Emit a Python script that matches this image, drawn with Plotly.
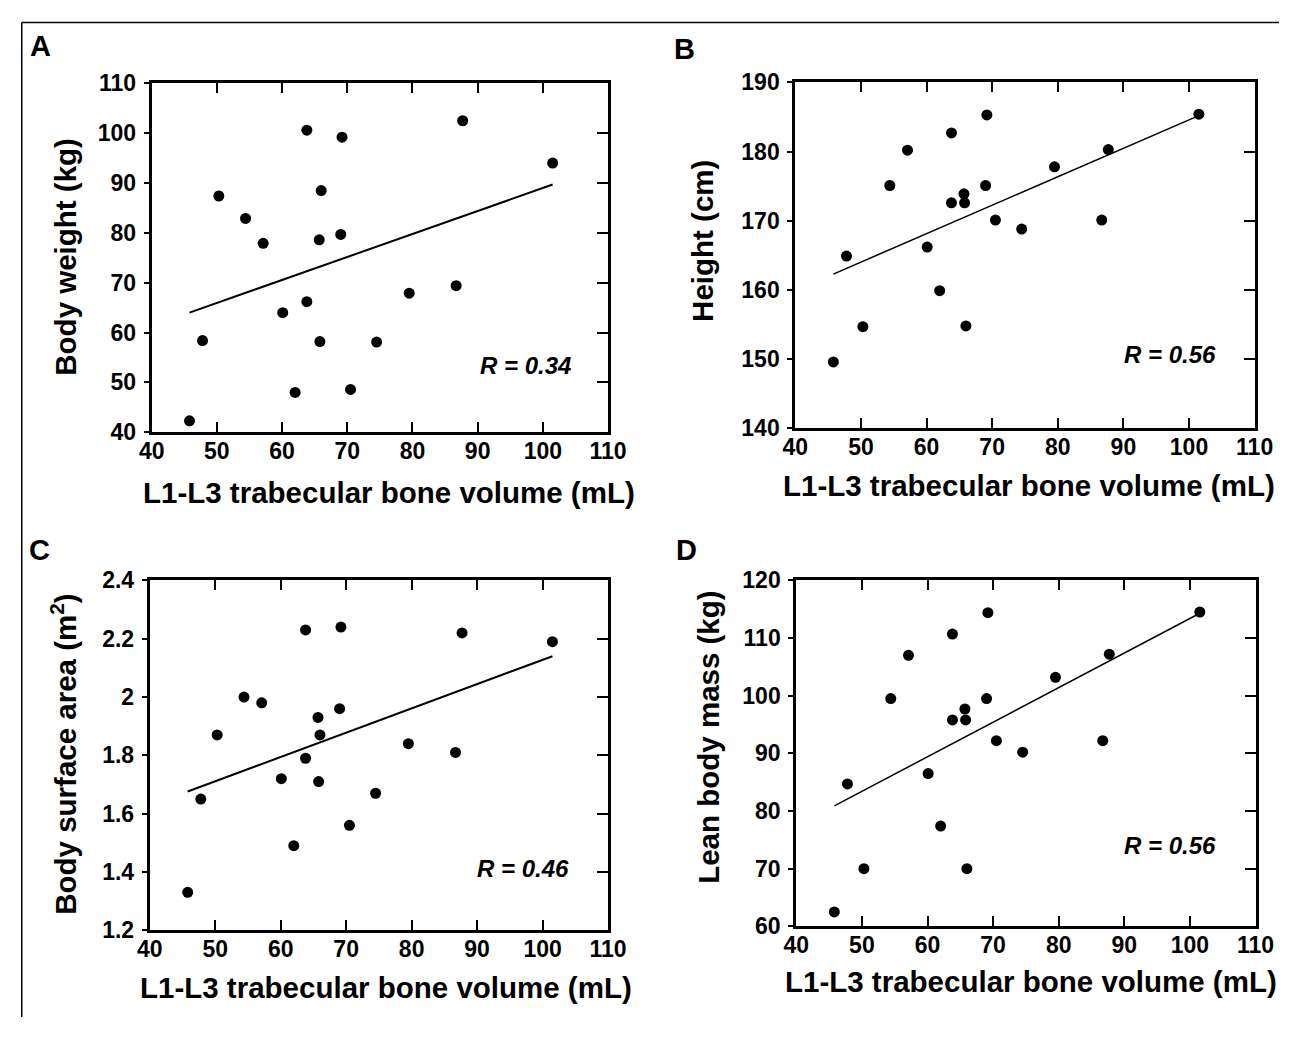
import plotly.graph_objects as go

# ---------------- data ----------------
bone_volume = [45.8, 47.8, 50.3, 54.4, 57.1, 60.1, 62.0, 63.8, 63.8, 65.7,
               65.8, 66.0, 69.2, 69.0, 70.5, 74.5, 79.5, 86.7, 87.7, 101.5]
body_weight = [42.3, 58.4, 87.4, 82.9, 77.9, 64.0, 48.0, 100.6, 66.2, 78.6,
               58.2, 88.5, 99.2, 79.7, 48.6, 58.1, 67.9, 69.4, 102.5, 94.0]
height_cm = [149.6, 164.9, 154.7, 175.1, 180.2, 166.2, 159.9, 182.7, 172.6, 173.9,
             172.6, 154.8, 185.3, 175.1, 170.1, 168.8, 177.8, 170.1, 180.3, 185.4]
bsa_m2 = [1.33, 1.65, 1.87, 2.00, 1.98, 1.72, 1.49, 2.23, 1.79, 1.93,
          1.71, 1.87, 2.24, 1.96, 1.56, 1.67, 1.84, 1.81, 2.22, 2.19]
lean_mass = [62.5, 84.7, 70.0, 99.5, 107.0, 86.5, 77.4, 110.7, 95.8, 97.7,
             95.8, 70.0, 114.4, 99.5, 92.2, 90.2, 103.2, 92.2, 107.2, 114.5]

# regression lines (end points)
fit_x = [45.8, 101.5]
fit_weight = [64.0, 89.7]
fit_height = [162.3, 185.2]
fit_bsa = [1.676, 2.140]
fit_lean = [80.9, 114.3]

r_labels = ["R = 0.34", "R = 0.56", "R = 0.46", "R = 0.56"]
r_pos_x = [97.4, 97.1, 97.0, 96.9]
r_pos_y = [53.4, 150.7, 1.412, 74.1]

panel_letters = ["A", "B", "C", "D"]
x_title = "L1-L3 trabecular bone volume (mL)"
y_titles = ["Body weight (kg)", "Height (cm)", "Body surface area (m<sup>2</sup>)",
            "Lean body mass (kg)"]

x_ticks = [40, 50, 60, 70, 80, 90, 100, 110]
y_ticks = [
    [40, 50, 60, 70, 80, 90, 100, 110],
    [140, 150, 160, 170, 180, 190],
    [1.2, 1.4, 1.6, 1.8, 2.0, 2.2, 2.4],
    [60, 70, 80, 90, 100, 110, 120],
]
y_ticktext = [
    ["40", "50", "60", "70", "80", "90", "100", "110"],
    ["140", "150", "160", "170", "180", "190"],
    ["1.2", "1.4", "1.6", "1.8", "2", "2.2", "2.4"],
    ["60", "70", "80", "90", "100", "110", "120"],
]
y_ranges = [[40, 110], [140, 190], [1.2, 2.4], [60, 120]]
series_y = [body_weight, height_cm, bsa_m2, lean_mass]
fits_y = [fit_weight, fit_height, fit_bsa, fit_lean]
fit_widths = [2, 1.5, 2, 1.5]

# ---------------- layout geometry (page pixels) ----------------
PAGE_MARGIN = 8          # default body margin of the html page
W, H = 1306 - 2 * PAGE_MARGIN, 1038 - 2 * PAGE_MARGIN
# plot frames: left, right, top, bottom
frames = [(142, 610, 72, 430), (802, 1273, 71, 426),
          (140, 610, 582, 941), (803, 1274, 582, 937)]
letter_pos = [(28, 34), (688, 37), (27, 551), (690, 551)]
xtitle_pos = [(385, 492), (1042, 485), (382, 1000), (1044, 994)]
ytitle_pos = [(54, 250), (707, 234), (52, 760), (713, 743)]


def px(x):
    return (x - PAGE_MARGIN) / W


def py(y):
    return 1 - (y - PAGE_MARGIN) / H


FONT = "Liberation Sans, Arial, sans-serif"
TICK_SIZE = 23
TITLE_SIZE = 29.5
fig = go.Figure()
layout = dict(
    width=W, height=H,
    margin=dict(l=0, r=0, t=0, b=0),
    paper_bgcolor="white", plot_bgcolor="white",
    showlegend=False,
    font=dict(family=FONT, color="black"),
)
annotations = []
shapes = []

for i in range(4):
    n = i + 1
    sfx = "" if n == 1 else str(n)
    l, r, t, b = frames[i]
    fig.add_trace(go.Scatter(
        x=bone_volume, y=series_y[i], mode="markers",
        marker=dict(color="black", size=11, line=dict(width=0)),
        xaxis="x" + sfx, yaxis="y" + sfx, cliponaxis=False,
    ))
    fig.add_trace(go.Scatter(
        x=fit_x, y=fits_y[i], mode="lines",
        line=dict(color="black", width=fit_widths[i]),
        xaxis="x" + sfx, yaxis="y" + sfx,
    ))
    # overlay y axis for inside ticks on the right side
    fig.add_trace(go.Scatter(
        x=[None], y=[None], xaxis="x" + sfx, yaxis="y" + str(n + 4),
        hoverinfo="skip",
    ))
    layout["xaxis" + sfx] = dict(
        domain=[px(l), px(r)], anchor="y" + sfx, range=[40, 110],
        tickvals=x_ticks, ticks="inside", ticklen=10, tickwidth=1.5,
        tickcolor="black", mirror="ticks", showline=True, linewidth=3,
        linecolor="black", showgrid=False, zeroline=False,
        tickfont=dict(family=FONT, size=TICK_SIZE, color="black", weight="bold"),
        ticklabelstandoff=-4,
    )
    layout["yaxis" + sfx] = dict(
        domain=[py(b), py(t)], anchor="x" + sfx, range=y_ranges[i],
        tickvals=y_ticks[i], ticktext=y_ticktext[i],
        ticks="outside", ticklen=5, tickwidth=1.5, tickcolor="black",
        mirror=True, showline=True, linewidth=3, linecolor="black",
        showgrid=False, zeroline=False,
        tickfont=dict(family=FONT, size=TICK_SIZE, color="black", weight="bold"),
        ticklabelstandoff=3,
    )
    layout["yaxis" + str(n + 4)] = dict(
        overlaying="y" + sfx, anchor="x" + sfx, side="right",
        range=y_ranges[i], tickvals=y_ticks[i], ticks="inside", ticklen=11,
        tickwidth=1.5, tickcolor="black", showticklabels=False,
        showline=False, showgrid=False, zeroline=False,
    )
    # R value
    annotations.append(dict(
        x=r_pos_x[i], y=r_pos_y[i], xref="x" + sfx, yref="y" + sfx,
        text=r_labels[i], showarrow=False, xanchor="center", yanchor="middle",
        font=dict(family=FONT, size=24, color="black", weight="bold", style="italic"),
    ))
    # panel letter
    annotations.append(dict(
        x=px(letter_pos[i][0]), y=py(letter_pos[i][1]), xref="paper", yref="paper",
        text=panel_letters[i], showarrow=False, xanchor="center", yanchor="middle",
        font=dict(family=FONT, size=29, color="black", weight="bold"),
    ))
    # axis titles
    annotations.append(dict(
        x=px(xtitle_pos[i][0]), y=py(xtitle_pos[i][1]), xref="paper", yref="paper",
        text=x_title, showarrow=False, xanchor="center", yanchor="middle",
        font=dict(family=FONT, size=TITLE_SIZE, color="black", weight="bold"),
    ))
    annotations.append(dict(
        x=px(ytitle_pos[i][0]), y=py(ytitle_pos[i][1]), xref="paper", yref="paper",
        text=y_titles[i], showarrow=False, xanchor="center", yanchor="middle",
        textangle=-90,
        font=dict(family=FONT, size=TITLE_SIZE, color="black", weight="bold"),
    ))

# outer border (top and left edges visible in the reference)
shapes.append(dict(type="line", xref="paper", yref="paper",
                   x0=0.75 / W, x1=1, y0=py(9.5), y1=py(9.5),
                   line=dict(color="black", width=1.5)))
shapes.append(dict(type="line", xref="paper", yref="paper",
                   x0=0.75 / W, x1=0.75 / W, y0=py(9.5), y1=0,
                   line=dict(color="black", width=1.5)))

layout["annotations"] = annotations
layout["shapes"] = shapes
fig.update_layout(**layout)

fig.write_html("out.html", config={"displayModeBar": False})
